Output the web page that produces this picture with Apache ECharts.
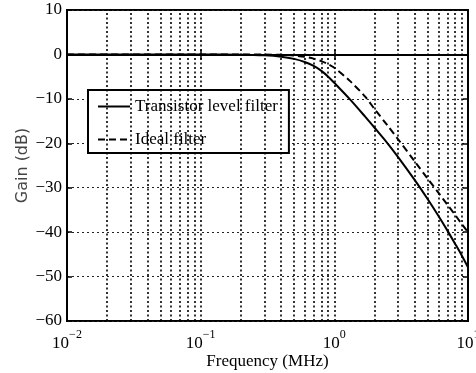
<!DOCTYPE html>
<html>
<head>
<meta charset="utf-8">
<script src="https://cdn.jsdelivr.net/npm/echarts@6/dist/echarts.min.js"></script>
<style>
  html, body { margin: 0; padding: 0; background: #fff; }
  #main { width: 476px; height: 373px; }
</style>
</head>
<body>
<div id="main"></div>
<script>
// frequency points (MHz)
var freqMHz = [0.01, 0.1, 0.2, 0.3, 0.4, 0.5, 0.6, 0.7, 0.8, 0.9, 1.0, 1.3, 1.7, 2.0, 2.5, 3.0, 4.0, 5.0, 6.0, 7.0, 8.0, 9.0, 10];
// solid curve
var transistorGain = [0, 0, -0.05, -0.2, -0.5, -1.0, -1.7, -2.6, -3.7, -5.0, -6.4, -10.0, -14.0, -16.5, -20.0, -23.1, -28.3, -32.6, -36.3, -39.6, -42.6, -45.3, -47.9];
// dashed curve
var idealGain = [0, 0, -0.01, -0.04, -0.1, -0.26, -0.53, -0.95, -1.5, -2.2, -3.0, -5.9, -9.5, -12.3, -16.0, -19.1, -24.1, -28.0, -31.1, -33.8, -36.1, -38.2, -40.0];
// vertical grid lines (log decades + 2..9)
var gridFreqs = [0.02, 0.03, 0.04, 0.05, 0.06, 0.07, 0.08, 0.09, 0.1,
                 0.2, 0.3, 0.4, 0.5, 0.6, 0.7, 0.8, 0.9, 1,
                 2, 3, 4, 5, 6, 7, 8, 9];
var seriesNames = ['Transistor level filter', 'Ideal filter'];

var chart = {};

chart.init = function () {
    chart.render();
};

chart.pairs = function (xs, ys) {
    var out = [];
    xs.forEach(function (x, i) {
        out.push([x, ys[i]]);
    });
    return out;
};

chart.render = function () {
    var myChart = echarts.init(document.getElementById('main'), null, { renderer: 'canvas' });
    var serif = 'Liberation Serif, Times New Roman, serif';

    var expLabel = function (v) {
        var e = Math.round(Math.log(v) / Math.LN10);
        return '{b|10}{s|' + String(e).replace('-', '\u2212') + '}';
    };

    var option = {
        backgroundColor: '#fff',
        animation: false,
        grid: {
            left: 67, right: 8, top: 10, bottom: 52,
            outerBoundsMode: 'none',
            containLabel: false,
            show: true, borderColor: '#000', borderWidth: 2, backgroundColor: 'transparent'
        },
        legend: {
            data: seriesNames,
            orient: 'vertical',
            left: 88,
            top: 90,
            itemWidth: 32,
            itemHeight: 3,
            itemGap: 16,
            padding: [8, 11, 5, 9],
            backgroundColor: '#fff',
            borderColor: '#000',
            borderWidth: 2,
            borderRadius: 0,
            itemStyle: { opacity: 0 },
            textStyle: { fontFamily: serif, fontSize: 17, color: '#000' }
        },
        xAxis: [{
            type: 'log',
            logBase: 10,
            min: 0.01,
            max: 10,
            name: 'Frequency (MHz)',
            nameLocation: 'middle',
            nameGap: 32,
            nameMoveOverlap: false,
            nameTextStyle: { fontFamily: serif, fontSize: 17, color: '#000' },
            axisLine: { lineStyle: { color: '#000', width: 2 } },
            axisTick: { inside: true, length: 5, lineStyle: { color: '#000', width: 1.5 } },
            splitLine: { show: false },
            axisLabel: {
                margin: 11,
                formatter: expLabel,
                rich: {
                    b: { fontFamily: serif, fontSize: 17, color: '#000', verticalAlign: 'bottom', lineHeight: 20 },
                    s: { fontFamily: serif, fontSize: 12, color: '#000', verticalAlign: 'bottom', lineHeight: 14, padding: [0, 0, 11, 0] }
                }
            }
        }, {
            type: 'log',
            logBase: 10,
            min: 0.01,
            max: 10,
            position: 'top',
            axisLine: { lineStyle: { color: '#000', width: 2 } },
            axisTick: { inside: true, length: 5, lineStyle: { color: '#000', width: 1.5 } },
            axisLabel: { show: false },
            splitLine: { show: false }
        }],
        yAxis: [{
            type: 'value',
            min: -60,
            max: 10,
            interval: 10,
            name: 'Gain (dB)',
            nameLocation: 'middle',
            nameRotate: 90,
            nameGap: 36,
            nameMoveOverlap: false,
            nameTextStyle: { fontFamily: 'DejaVu Sans, sans-serif', fontSize: 16, color: '#444' },
            axisLine: { lineStyle: { color: '#000', width: 2 } },
            axisTick: { inside: true, length: 5, lineStyle: { color: '#000', width: 1.5 } },
            axisLabel: {
                margin: 5,
                fontFamily: serif,
                fontSize: 17,
                color: '#000',
                formatter: function (v) { return String(v).replace('-', '\u2212'); }
            },
            splitLine: { show: true, lineStyle: { color: '#222', width: 1, type: [2, 3] } }
        }, {
            type: 'value',
            min: -60,
            max: 10,
            interval: 10,
            position: 'right',
            axisLine: { lineStyle: { color: '#000', width: 2 } },
            axisTick: { inside: true, length: 5, lineStyle: { color: '#000', width: 1.5 } },
            axisLabel: { show: false },
            splitLine: { show: false }
        }],
        series: [{
            name: seriesNames[0],
            type: 'line',
            symbol: 'none',
            smooth: 0.3,
            data: chart.pairs(freqMHz, transistorGain),
            lineStyle: { color: '#000', width: 2, type: 'solid' },
            itemStyle: { color: '#000' },
            markLine: {
                silent: true,
                symbol: ['none', 'none'],
                label: { show: false },
                lineStyle: { color: '#000', width: 1.6, type: [2, 2.5] },
                data: gridFreqs.map(function (f) { return { xAxis: f }; })
            },
            z: 3
        }, {
            name: seriesNames[1],
            type: 'line',
            symbol: 'none',
            smooth: 0.3,
            data: chart.pairs(freqMHz, idealGain),
            lineStyle: { color: '#000', width: 2, type: [7, 4] },
            itemStyle: { color: '#000' },
            z: 4
        }]
    };

    myChart.setOption(option);
};

chart.init();
</script>
</body>
</html>
